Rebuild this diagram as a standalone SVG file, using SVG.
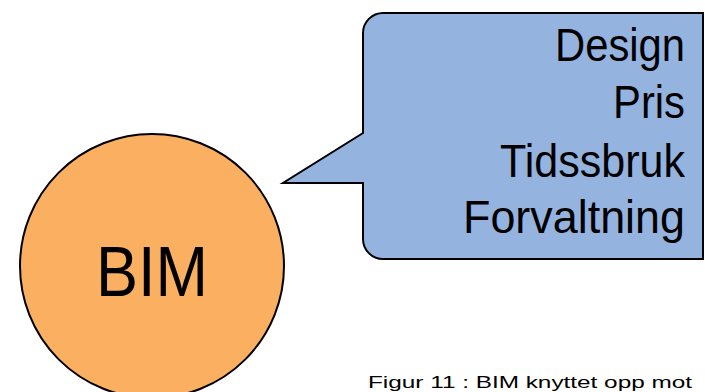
<svg xmlns="http://www.w3.org/2000/svg" width="705" height="392" viewBox="0 0 705 392">
  <style>
    .shape { stroke: #000; stroke-width: 2; stroke-linejoin: miter; }
    .label { font-family: "Liberation Sans", "DejaVu Sans", sans-serif; fill: #000; }
    .item { font-size: 46px; text-anchor: end; }
  </style>
  <rect width="705" height="392" fill="#fff"/>

  <g id="bim">
    <circle class="shape" cx="152" cy="266" r="132" fill="#FBAF61"/>
    <text class="label" x="152" y="296" font-size="70" text-anchor="middle" textLength="112" lengthAdjust="spacingAndGlyphs">BIM</text>
  </g>

  <g id="callout">
    <path class="shape" fill="#95B3DF"
      d="M383,13 H703 V259 H383 A20,20 0 0 1 363,239 V183 H283 L363,133 V33 A20,20 0 0 1 383,13 Z"/>
    <text class="label item" x="685" y="61" textLength="130" lengthAdjust="spacingAndGlyphs">Design</text>
    <text class="label item" x="685" y="118" textLength="72" lengthAdjust="spacingAndGlyphs">Pris</text>
    <text class="label item" x="685" y="177" textLength="185" lengthAdjust="spacingAndGlyphs">Tidssbruk</text>
    <text class="label item" x="685" y="233" textLength="222" lengthAdjust="spacingAndGlyphs">Forvaltning</text>
  </g>

  <g id="caption">
    <text class="label" x="368" y="388" font-size="16" fill="#222" textLength="324" lengthAdjust="spacingAndGlyphs">Figur 11 : BIM knyttet opp mot</text>
  </g>
</svg>
